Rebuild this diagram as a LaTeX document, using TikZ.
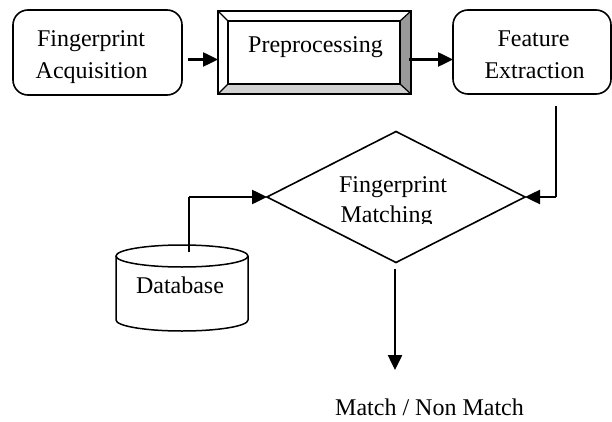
\documentclass[tikz,border=0pt]{standalone}
\usepackage{fontspec}
\setmainfont{Liberation Serif}
\usetikzlibrary{arrows.meta,shapes.geometric}
\definecolor{bevdark}{gray}{0.6}
\definecolor{bevlight}{gray}{0.82}
\tikzset{
  rbox/.style={draw, line width=1.6pt, rounded corners=15pt, inner sep=0pt, outer sep=0pt},
  plainbox/.style={draw, line width=1.6pt, inner sep=0pt, outer sep=0pt},
  txt/.style={inner sep=0pt, outer sep=0pt, anchor=base, font=\fontsize{24}{30}\selectfont},
  arr/.style={line width=2.5pt, -{Triangle[length=15pt,width=14pt]}},
  conn/.style={line width=2.2pt},
  dia/.style={draw, shape=diamond, line width=1.6pt, inner sep=0pt, outer sep=0pt,
              minimum width=258pt, minimum height=131pt},
}
\begin{document}
\begin{tikzpicture}[x=1pt,y=1pt]
\useasboundingbox (0,0) rectangle (612,421);

% Fingerprint Acquisition
\node[rbox, minimum width=169pt, minimum height=85pt] (b1) at (97.5,368.5) {};
\node[txt] (b1a) at (91,374) {Fingerprint};
\node[txt] (b1b) at (91.7,342) {Acquisition};

% Preprocessing (bevelled)
\node[plainbox, minimum width=193pt, minimum height=83pt] (b2) at (314.5,368.5) {};
\fill[bevdark] (b2.north east) -- ++(-11,-10) -- ([shift={(-11pt,10pt)}]b2.south east) -- (b2.south east) -- cycle;
\fill[bevlight] (b2.south west) -- ++(10,10) -- ([shift={(-11pt,10pt)}]b2.south east) -- (b2.south east) -- cycle;
\draw[line width=1.6pt] (b2.north west) rectangle (b2.south east);
\draw[line width=1.4pt] ([shift={(10pt,-10pt)}]b2.north west) rectangle ([shift={(-11pt,10pt)}]b2.south east);
\draw[line width=1.2pt] (b2.north west) -- ++(10,-10);
\draw[line width=1.2pt] (b2.north east) -- ++(-11,-10);
\draw[line width=1.2pt] (b2.south west) -- ++(10,10);
\draw[line width=1.2pt] (b2.south east) -- ++(-11,10);
\node[txt] (b2a) at (315.5,368) {Preprocessing};

% Feature Extraction
\node[rbox, minimum width=158pt, minimum height=84pt] (b3) at (532,369) {};
\node[txt] (b3a) at (533.5,374) {Feature};
\node[txt] (b3b) at (534.5,342) {Extraction};

% Arrows between boxes
\draw[arr] ([shift={(6pt,-7pt)}]b1.east) -- ([yshift=-7pt]b2.west);
\draw[arr] ([shift={(-2pt,-7pt)}]b2.east) -- ([yshift=-7.5pt]b3.west);

% Fingerprint Matching diamond
\node[dia] (dm) at (396,224) {};
\begin{scope}
  \clip (300,198) rectangle (500,270);
  \node[txt] (dma) at (393,229) {Fingerprint};
  \node[txt] (dmb) at (386.5,198.7) {Matching};
\end{scope}

% Right connector from Feature Extraction
\coordinate (fe) at (556,315);
\draw[conn] (fe) -- (fe |- dm.east);
\draw[arr] (fe |- dm.east) -- (dm.east);

% Database cylinder
\draw[line width=1.5pt] (116,165) -- (116,101) arc[start angle=180, end angle=360, x radius=66pt, y radius=11pt] -- (248,165);
\draw[line width=1.5pt] (182,165) ellipse[x radius=66pt, y radius=11pt];
\node[txt] (db) at (180,128) {Database};
\coordinate (dbtop) at (189,169);
\draw[conn] (dbtop) -- (dbtop |- dm.west);
\draw[arr] (dbtop |- dm.west) -- (dm.west);

% Output arrow
\coordinate (outs) at (395,152);
\coordinate (oute) at (395,51);
\draw[arr] (outs) -- (oute);
\node[txt] (out) at (429.5,6) {Match / Non Match};
\end{tikzpicture}
\end{document}
